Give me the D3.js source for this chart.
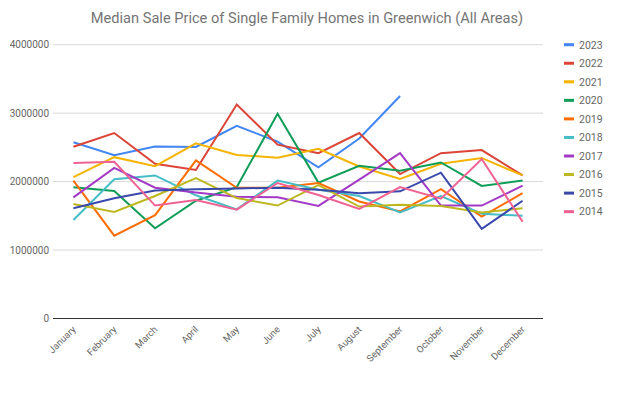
<!DOCTYPE html>
<html><head><meta charset="utf-8">
<script src="https://cdn.jsdelivr.net/npm/d3@7"></script>
<style>body{margin:0;background:#fff}svg{display:block;font-family:Roboto,Arial,sans-serif}</style>
</head><body><svg id="c" width="629" height="393"></svg>
<script>
const months = ["January","February","March","April","May","June","July","August","September","October","November","December"];
const years = ["2023","2022","2021","2020","2019","2018","2017","2016","2015","2014"];
const colors = ["#4285F4","#DB4437","#F4B400","#0F9D58","#FF6D00","#46BDC6","#A33AC5","#BDB81F","#3949AB","#F06292"];
const yTicks = [0,1000000,2000000,3000000,4000000];
const s2023 = [2576000,2386000,2512000,2507000,2814000,2585000,2210000,2630000,3250000];
const s2022 = [2510000,2710000,2260000,2170000,3126000,2540000,2415000,2710000,2110000,2415000,2460000,2090000];
const s2021 = [2064000,2357000,2225000,2560000,2390000,2350000,2480000,2220000,2040000,2260000,2346000,2090000];
const s2020 = [1918000,1864000,1319000,1720000,1920000,2990000,1985000,2230000,2160000,2280000,1937000,2015000];
const s2019 = [2015000,1210000,1510000,2310000,1910000,1910000,1980000,1710000,1565000,1890000,1490000,1830000];
const s2018 = [1440000,2035000,2090000,1800000,1595000,2015000,1880000,1790000,1550000,1790000,1530000,1500000];
const s2017 = [1770000,2200000,1910000,1840000,1780000,1770000,1645000,2030000,2415000,1650000,1650000,1940000];
const s2016 = [1674000,1557000,1790000,2050000,1760000,1650000,1950000,1635000,1660000,1645000,1550000,1610000];
const s2015 = [1610000,1757000,1870000,1890000,1900000,1910000,1880000,1830000,1858000,2130000,1310000,1720000];
const s2014 = [2270000,2290000,1650000,1730000,1590000,1980000,1805000,1600000,1920000,1750000,2330000,1415000];
const series = [s2023,s2022,s2021,s2020,s2019,s2018,s2017,s2016,s2015,s2014];

const svg = d3.select("#c");
const x = d3.scalePoint().domain(months).range([53,543]).padding(0.5);
const y = d3.scaleLinear().domain([0,4000000]).range([318.5,44.7]);

svg.append("text").attr("x",307).attr("y",23).attr("text-anchor","middle")
  .attr("font-size",14.6).attr("fill","#757575").text("Median Sale Price of Single Family Homes in Greenwich (All Areas)");

svg.append("g").selectAll("line").data(yTicks.filter(d=>d>0)).join("line")
  .attr("x1",53).attr("x2",543).attr("y1",d=>y(d)).attr("y2",d=>y(d))
  .attr("stroke","#d9d9d9").attr("stroke-width",1);
svg.append("g").selectAll("text").data(yTicks).join("text")
  .attr("x",49).attr("y",d=>y(d)+3.5).attr("text-anchor","end")
  .attr("font-size",10).attr("fill","#666").text(d=>d);

const line = d3.line().x((d,i)=>x(months[i])).y(d=>y(d));
svg.append("g").selectAll("path").data(series).join("path")
  .attr("d",d=>line(d)).attr("fill","none")
  .attr("stroke",(d,i)=>colors[i]).attr("stroke-width",2).attr("stroke-linejoin","miter");

svg.append("line").attr("x1",53).attr("x2",543).attr("y1",y(0)).attr("y2",y(0))
  .attr("stroke","#333").attr("stroke-width",1);

svg.append("g").selectAll("text").data(months).join("text")
  .attr("transform",d=>`translate(${x(d)+3},${330}) rotate(-45)`)
  .attr("text-anchor","end").attr("font-size",9.5).attr("fill","#666").text(d=>d);

const lg = svg.append("g").selectAll("g").data(years).join("g")
  .attr("transform",(d,i)=>`translate(564,${44.7+i*18.55})`);
lg.append("line").attr("x1",0).attr("x2",10).attr("y1",0).attr("y2",0)
  .attr("stroke",(d,i)=>colors[i]).attr("stroke-width",3);
lg.append("text").attr("x",15).attr("y",3.8).attr("font-size",10.5).attr("fill","#666").text(d=>d);
</script></body></html>
